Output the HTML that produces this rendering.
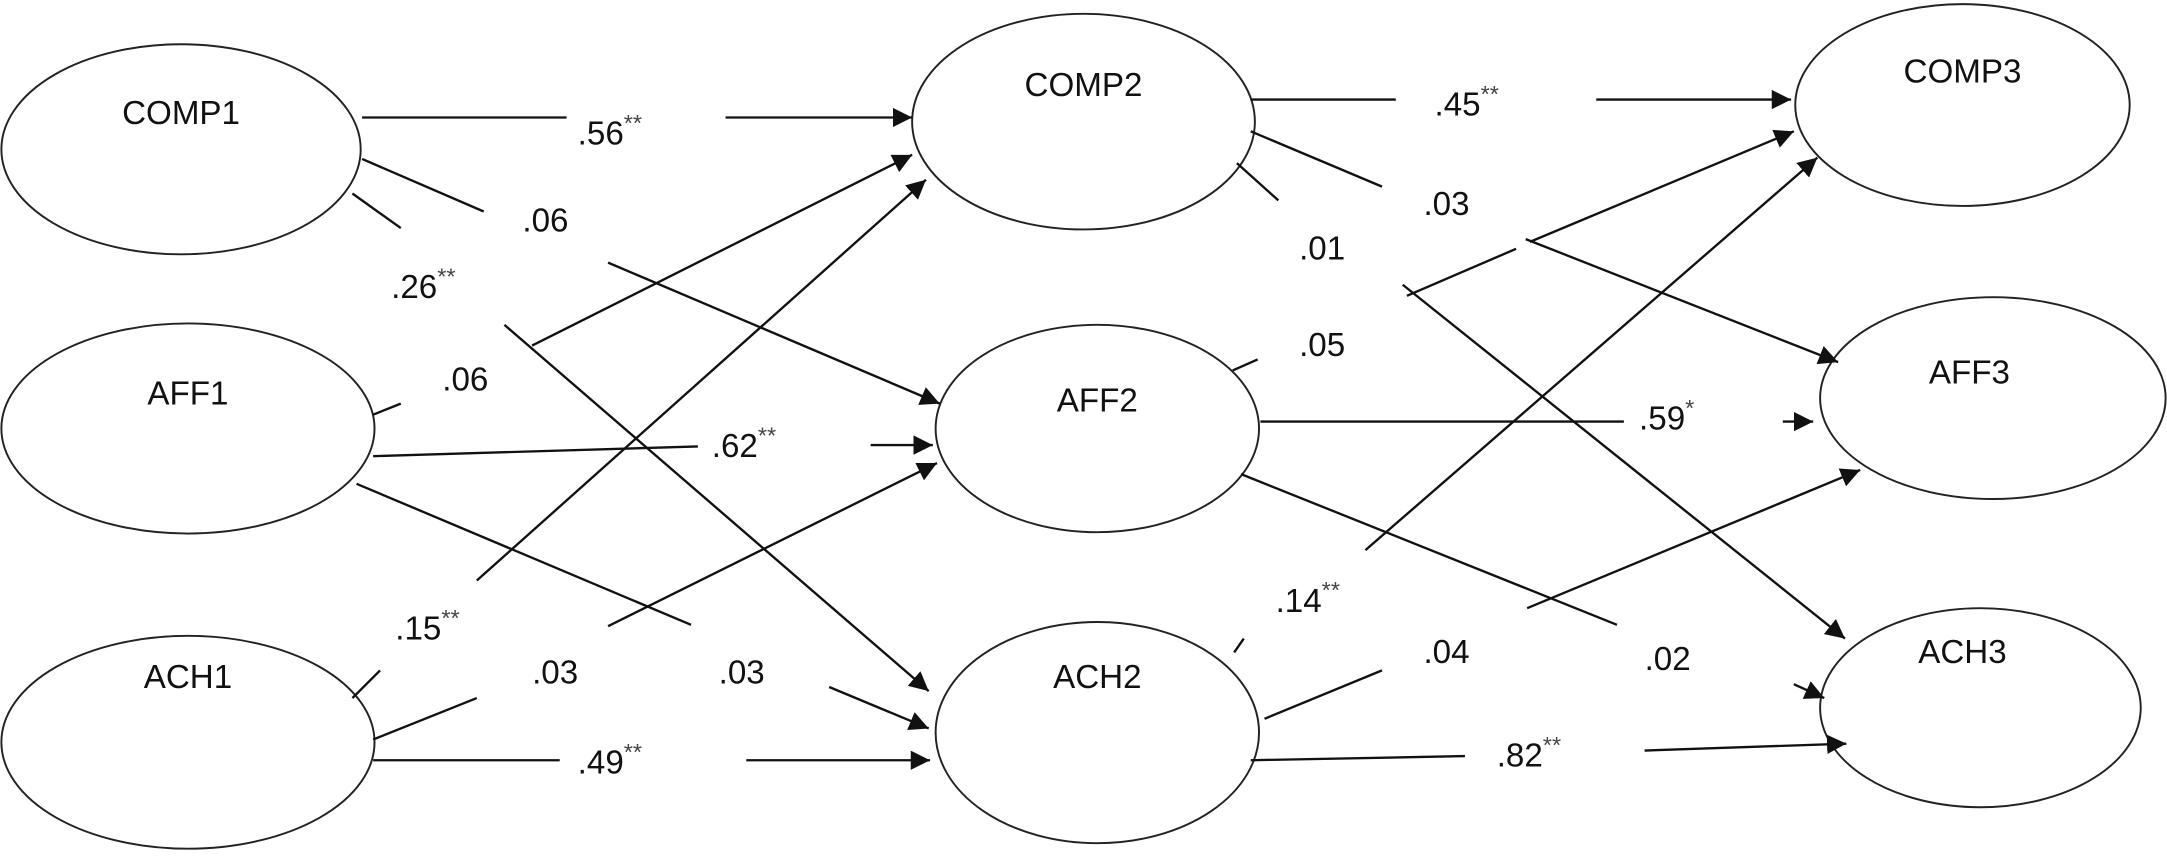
<!DOCTYPE html>
<html><head><meta charset="utf-8"><style>
html,body{margin:0;padding:0;background:#fff;}
svg{display:block;}
text{font-family:"Liberation Sans",Arial,sans-serif;font-size:24px;fill:#111;}
.s{font-size:17px;fill:#444;}
</style></head><body>
<svg width="2167" height="857" viewBox="0 0 1568 620" preserveAspectRatio="none" xmlns="http://www.w3.org/2000/svg">
<defs>
<marker id="a" viewBox="0 0 10 10" refX="10" refY="5" markerWidth="14" markerHeight="14" markerUnits="userSpaceOnUse" orient="auto">
<path d="M0,0 L10,5 L0,10 z" fill="#111"/></marker>
</defs>
<g fill="none" stroke="#222" stroke-width="1.4">
<ellipse cx="131" cy="108" rx="130" ry="76"/>
<ellipse cx="136" cy="310" rx="135" ry="76"/>
<ellipse cx="136" cy="537" rx="135" ry="77"/>
<ellipse cx="784" cy="88" rx="124" ry="78"/>
<ellipse cx="794" cy="310" rx="117" ry="75"/>
<ellipse cx="794" cy="530" rx="117" ry="80"/>
<ellipse cx="1420" cy="76" rx="121" ry="73"/>
<ellipse cx="1442" cy="288" rx="125" ry="73"/>
<ellipse cx="1433" cy="512" rx="116" ry="72"/>
</g>
<g stroke="#111" stroke-width="1.7" fill="none">
<line x1="262" y1="85" x2="410" y2="85"/><line x1="525" y1="85" x2="660" y2="85" marker-end="url(#a)"/>
<line x1="262" y1="115" x2="350" y2="153"/><line x1="440" y1="190" x2="680" y2="292" marker-end="url(#a)"/>
<line x1="255" y1="140" x2="290" y2="165"/><line x1="365" y1="235" x2="672" y2="500" marker-end="url(#a)"/>
<line x1="270" y1="300" x2="290" y2="292"/><line x1="385" y1="250" x2="660" y2="112" marker-end="url(#a)"/>
<line x1="270" y1="330" x2="505" y2="323"/><line x1="630" y1="322" x2="675" y2="322" marker-end="url(#a)"/>
<line x1="258" y1="350" x2="500" y2="452"/><line x1="600" y1="497" x2="672" y2="527" marker-end="url(#a)"/>
<line x1="255" y1="505" x2="275" y2="485"/><line x1="345" y1="420" x2="670" y2="130" marker-end="url(#a)"/>
<line x1="270" y1="535" x2="345" y2="505"/><line x1="440" y1="453" x2="678" y2="335" marker-end="url(#a)"/>
<line x1="270" y1="550" x2="405" y2="550"/><line x1="540" y1="550" x2="673" y2="550" marker-end="url(#a)"/>
<line x1="905" y1="72" x2="1010" y2="72"/><line x1="1155" y1="72" x2="1296" y2="72" marker-end="url(#a)"/>
<line x1="905" y1="95" x2="1000" y2="135"/><line x1="1104" y1="173" x2="1330" y2="262" marker-end="url(#a)"/>
<line x1="895" y1="118" x2="925" y2="145"/><line x1="1015" y1="206" x2="1335" y2="462" marker-end="url(#a)"/>
<line x1="892" y1="268" x2="910" y2="260"/><line x1="1018" y1="214" x2="1097" y2="180"/><line x1="1107" y1="175" x2="1298" y2="95" marker-end="url(#a)"/>
<line x1="912" y1="305" x2="1175" y2="305"/><line x1="1290" y1="305" x2="1312" y2="305" marker-end="url(#a)"/>
<line x1="898" y1="343" x2="1170" y2="452"/><line x1="1298" y1="495" x2="1320" y2="505" marker-end="url(#a)"/>
<line x1="893" y1="472" x2="900" y2="462"/><line x1="988" y1="398" x2="1315" y2="114" marker-end="url(#a)"/>
<line x1="915" y1="520" x2="1000" y2="485"/><line x1="1105" y1="440" x2="1346" y2="340" marker-end="url(#a)"/>
<line x1="905" y1="550" x2="1060" y2="547"/><line x1="1190" y1="543" x2="1336" y2="538" marker-end="url(#a)"/>
</g>
<g text-anchor="middle" dominant-baseline="central">
<text x="131" y="82">COMP1</text>
<text x="136" y="285">AFF1</text>
<text x="136" y="490">ACH1</text>
<text x="784" y="62">COMP2</text>
<text x="794" y="290">AFF2</text>
<text x="794" y="490">ACH2</text>
<text x="1420" y="52">COMP3</text>
<text x="1425" y="270">AFF3</text>
<text x="1420" y="472">ACH3</text>
</g>
<g dominant-baseline="central">
<text x="418" y="97">.56<tspan class="s" dy="-8">**</tspan></text>
<text x="378" y="160">.06</text>
<text x="283" y="208">.26<tspan class="s" dy="-8">**</tspan></text>
<text x="320" y="275">.06</text>
<text x="515" y="323">.62<tspan class="s" dy="-8">**</tspan></text>
<text x="520" y="487">.03</text>
<text x="286" y="455">.15<tspan class="s" dy="-8">**</tspan></text>
<text x="385" y="487">.03</text>
<text x="418" y="552">.49<tspan class="s" dy="-8">**</tspan></text>
<text x="1038" y="76">.45<tspan class="s" dy="-8">**</tspan></text>
<text x="1030" y="148">.03</text>
<text x="940" y="180">.01</text>
<text x="940" y="250">.05</text>
<text x="1186" y="303">.59<tspan class="s" dy="-8">*</tspan></text>
<text x="1190" y="477">.02</text>
<text x="923" y="435">.14<tspan class="s" dy="-8">**</tspan></text>
<text x="1030" y="472">.04</text>
<text x="1083" y="547">.82<tspan class="s" dy="-8">**</tspan></text>
</g>
</svg>
</body></html>
